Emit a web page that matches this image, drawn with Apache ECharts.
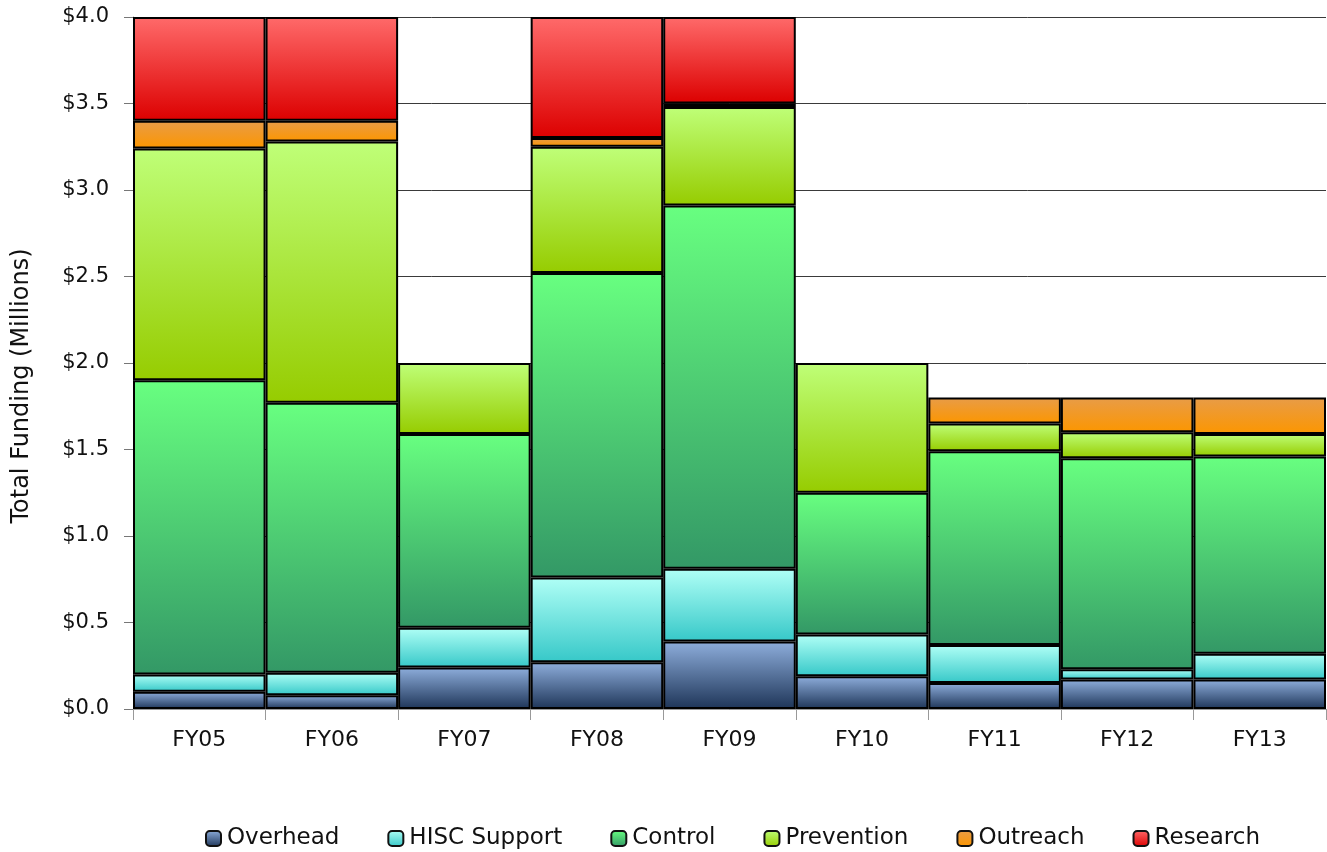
<!DOCTYPE html>
<html>
<head>
<meta charset="utf-8">
<script src="https://cdn.jsdelivr.net/npm/echarts@6/dist/echarts.min.js"></script>
<style>
  html, body { margin: 0; padding: 0; background: #fff; }
  #chart { width: 1327px; height: 852px; }
</style>
</head>
<body>
<div id="chart"></div>
<script>
// Fiscal years on the x axis
const years = ['FY05', 'FY06', 'FY07', 'FY08', 'FY09', 'FY10', 'FY11', 'FY12', 'FY13'];

// Funding by program area, in millions of dollars
const overhead    = [0.10, 0.08, 0.24, 0.27, 0.39, 0.19, 0.15, 0.17, 0.17];
const hiscSupport = [0.10, 0.13, 0.23, 0.49, 0.42, 0.24, 0.22, 0.06, 0.15];
const control     = [1.70, 1.56, 1.12, 1.76, 2.10, 0.82, 1.12, 1.22, 1.14];
const prevention  = [1.34, 1.51, 0.41, 0.73, 0.57, 0.75, 0.16, 0.15, 0.13];
const outreach    = [0.16, 0.12, null, 0.05, 0.02, null, 0.15, 0.20, 0.21];
const research    = [0.60, 0.60, null, 0.70, 0.50, null, null, null, null];

// Y axis range and step
const yMin = 0;
const yMax = 4.0;
const yStep = 0.5;

function grad(top, bottom) {
  return new echarts.graphic.LinearGradient(0, 0, 0, 1, [
    { offset: 0, color: top },
    { offset: 1, color: bottom }
  ]);
}

const seriesDefs = [
  { name: 'Overhead',     data: overhead,    top: '#8eaedc', bottom: '#1e3558' },
  { name: 'HISC Support', data: hiscSupport, top: '#b0fff6', bottom: '#36c8c8' },
  { name: 'Control',      data: control,     top: '#68ff80', bottom: '#339866' },
  { name: 'Prevention',   data: prevention,  top: '#bfff78', bottom: '#96cc00' },
  { name: 'Outreach',     data: outreach,    top: '#e89c48', bottom: '#fc9600' },
  { name: 'Research',     data: research,    top: '#ff6a6a', bottom: '#dc0000' }
];

const fontFamily = '"DejaVu Sans", "Open Sans", sans-serif';

const chart = echarts.init(document.getElementById('chart'), null, { renderer: 'canvas' });

chart.setOption({
  animation: false,
  backgroundColor: '#ffffff',
  grid: { left: 133, right: 1, top: 17, bottom: 143, containLabel: false },
  // Vertical axis title
  graphic: [{
    type: 'text',
    x: 22,
    y: 386,
    rotation: Math.PI / 2,
    style: {
      text: 'Total Funding (Millions)',
      fontFamily,
      fontSize: 24,
      fill: '#111',
      align: 'center',
      verticalAlign: 'middle'
    }
  }],
  legend: {
    top: 822,
    left: 200,
    itemWidth: 15,
    itemHeight: 15,
    itemGap: 48,
    icon: 'roundRect',
    itemStyle: { borderColor: '#111', borderWidth: 2 },
    textStyle: { fontFamily, fontSize: 23, color: '#111', padding: [0, 0, 0, 1] },
    data: seriesDefs.map(s => s.name)
  },
  xAxis: {
    type: 'category',
    data: years,
    boundaryGap: true,
    axisLine: { show: true, lineStyle: { color: '#999', width: 1 } },
    axisTick: { show: true, length: 11, lineStyle: { color: '#999', width: 1 } },
    axisLabel: { fontFamily, fontSize: 22, color: '#111', margin: 20 }
  },
  yAxis: {
    type: 'value',
    min: yMin,
    max: yMax,
    interval: yStep,
    axisLine: { show: true, lineStyle: { color: '#999', width: 1 } },
    axisTick: { show: true, length: 9, lineStyle: { color: '#777', width: 1 } },
    axisLabel: {
      fontFamily, fontSize: 21, color: '#111', margin: 24,
      formatter: v => '$' + v.toFixed(1)
    },
    splitLine: { show: true, lineStyle: { color: '#3a3a3a', width: 1 } }
  },
  series: seriesDefs.map(s => ({
    name: s.name,
    type: 'bar',
    stack: 'total',
    barCategoryGap: '0%',
    data: s.data,
    itemStyle: {
      color: grad(s.top, s.bottom),
      borderColor: '#000',
      borderWidth: 2
    },
    emphasis: { disabled: true }
  }))
});
</script>
</body>
</html>
